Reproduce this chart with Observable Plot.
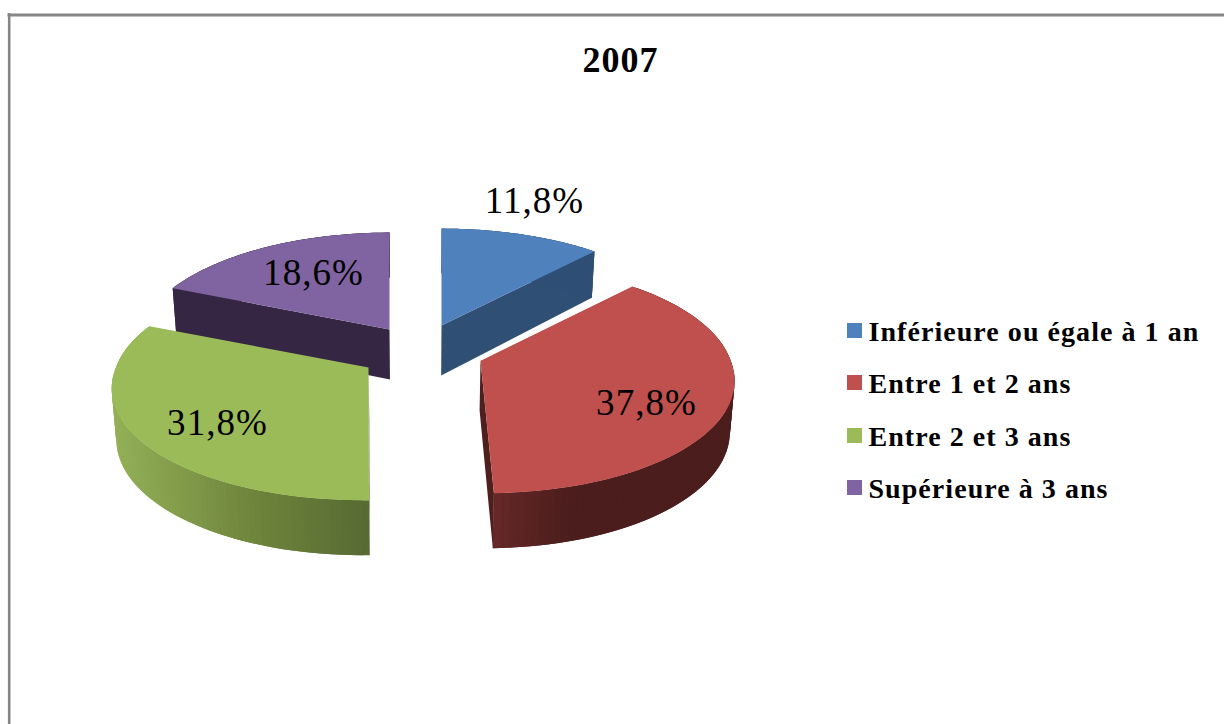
<!DOCTYPE html>
<html>
<head>
<meta charset="utf-8">
<script src="https://cdn.jsdelivr.net/npm/d3@7"></script>
<script src="https://cdn.jsdelivr.net/npm/@observablehq/plot@0.6"></script>
<style>
html,body{margin:0;padding:0;background:#fff}
svg{display:block}
svg text{letter-spacing:1.05px}
</style>
</head>
<body>
<div id="chart"></div>
<script>
// ---- data ----
const title = "2007";
const categories = ["Inférieure ou égale à 1 an", "Entre 1 et 2 ans", "Entre 2 et 3 ans", "Supérieure à 3 ans"];
const values = [11.8, 37.8, 31.8, 18.6];
const colors = ["#4f81bd", "#c0504d", "#9bbb59", "#8064a2"];

// ---- layout of the exploded, tilted pie ----
const apexX = [441, 480, 368, 389];
const apexY = [325, 360, 367, 329];
const lean = [0, 6, -7, 0];
const widthFactor = [1.01, 1, 1.01, 1];
const labelX = [534, 646, 217, 313];
const labelY = [201, 403, 423, 273];
const legendY = [331, 383, 436, 488];
const A = 250, B = 112, K = 0.156, DEPTH = 50, DEPTH_TILT = 0.1, VX = 420, SHRINK = 0.985;

const fmt = v => String(v).replace(".", ",") + "%";
const total = d3.sum(values);
let acc = 0;
const slices = values.map((v, i) => {
  const start = acc / total * 2 * Math.PI;
  acc += v;
  return {i, start, end: acc / total * 2 * Math.PI};
});

function project(i, t, r, bottom) {
  const X = r * Math.sin(t) * widthFactor[i], Y = r * Math.cos(t);
  const s = 1 / (1 + K * Y);
  let x = apexX[i] + A * X * s + (Y < 0 ? -Y * lean[i] : 0);
  let y = apexY[i] - B * Y * s;
  if (bottom) {
    x = VX + (x - VX) * SHRINK;
    y += DEPTH * (1 - DEPTH_TILT * Y);
  }
  return {x, y};
}
const arc = (s, bottom) => d3.range(0, 1.0001, 1 / 90).map(f => project(s.i, s.start + f * (s.end - s.start), 1, bottom));

const redRim = d3.scaleLinear().domain([482, 570, 735]).range(["#6a2a28", "#4b1d1c", "#4b1d1c"]);
const greenRim = d3.scaleLinear().domain([112, 250, 369]).range(["#93b058", "#6f853c", "#566a32"]);
const rimColor = [() => "#2f4f75", x => redRim(x), x => greenRim(x), () => "#352743"];
const radialWall = ["#2f4f75", "#5a2220", "#566a32", "#352743"];

const polygons = [];
function addPoly(points, fill) {
  polygons.push({id: polygons.length, fill, points: [...points, points[0]]});
}
// back slices first, front slices over them
for (const i of [0, 3, 1, 2]) {
  const s = slices[i];
  const top = arc(s, false), bot = arc(s, true);
  const a = project(i, 0, 0, false), ab = project(i, 0, 0, true);
  if (i === 0 || i === 3) {
    const k = i === 0 ? top.length - 1 : 0;
    addPoly([a, top[k], bot[k], ab], radialWall[i]);
  }
  // overlapping rim strips, painted in order so no seam shows
  for (let k = 0; k < top.length - 1; k++) {
    const n = Math.min(k + 2, top.length - 1);
    addPoly([top[k], top[n], bot[n], bot[k]], rimColor[i]((top[k].x + top[k + 1].x) / 2));
  }
  if (i === 1) addPoly([a, top[top.length - 1], bot[bot.length - 1], ab], "#4f1f1e");
  if (i === 2) addPoly([a, top[0], bot[0], ab], "#566a32");
  addPoly([a, ...top], colors[i]);
}
const polyRows = polygons.flatMap(p => p.points.map(q => ({x: q.x, y: q.y, id: p.id, fill: p.fill})));

// white halo along the upper straight edge of the red slice
const redEdge = [project(1, 0, 0, false), arc(slices[1], false)[0]];
const font = "'Liberation Serif', 'Times New Roman', serif";

const plot = Plot.plot({
  width: 1224, height: 724,
  margin: 0,
  x: {domain: [0, 1224], range: [0, 1224], axis: null},
  y: {domain: [0, 724], range: [0, 724], axis: null},
  color: {type: "identity"},
  marks: [
    Plot.ruleY([14.5], {x1: 7.5, x2: 1224, stroke: "#868686", strokeWidth: 3}),
    Plot.ruleX([8.7], {y1: 13, y2: 724, stroke: "#868686", strokeWidth: 2.6}),
    Plot.line(polyRows, {x: "x", y: "y", z: "id", fill: "fill", stroke: null, curve: "linear"}),
    Plot.line(redEdge, {x: "x", y: "y", stroke: "#ffffff", strokeWidth: 2, dy: -1}),
    Plot.text([title], {x: 620, y: 60, text: d => d, fontFamily: font, fontWeight: "bold", fontSize: 36, fill: "#000", lineAnchor: "middle"}),
    Plot.text(values, {x: (d, i) => labelX[i], y: (d, i) => labelY[i], text: fmt, fontFamily: font, fontSize: 37, fill: "#000", lineAnchor: "middle"}),
    Plot.rect(categories, {x1: 847, x2: 862, y1: (d, i) => legendY[i] - 8, y2: (d, i) => legendY[i] + 7, fill: (d, i) => colors[i], inset: 0}),
    Plot.text(categories, {x: 868, y: (d, i) => legendY[i] + 1, text: d => d, textAnchor: "start", fontFamily: font, fontWeight: "bold", fontSize: 28, fill: "#000", lineAnchor: "middle"})
  ]
});
document.getElementById("chart").append(plot);
</script>
</body>
</html>
